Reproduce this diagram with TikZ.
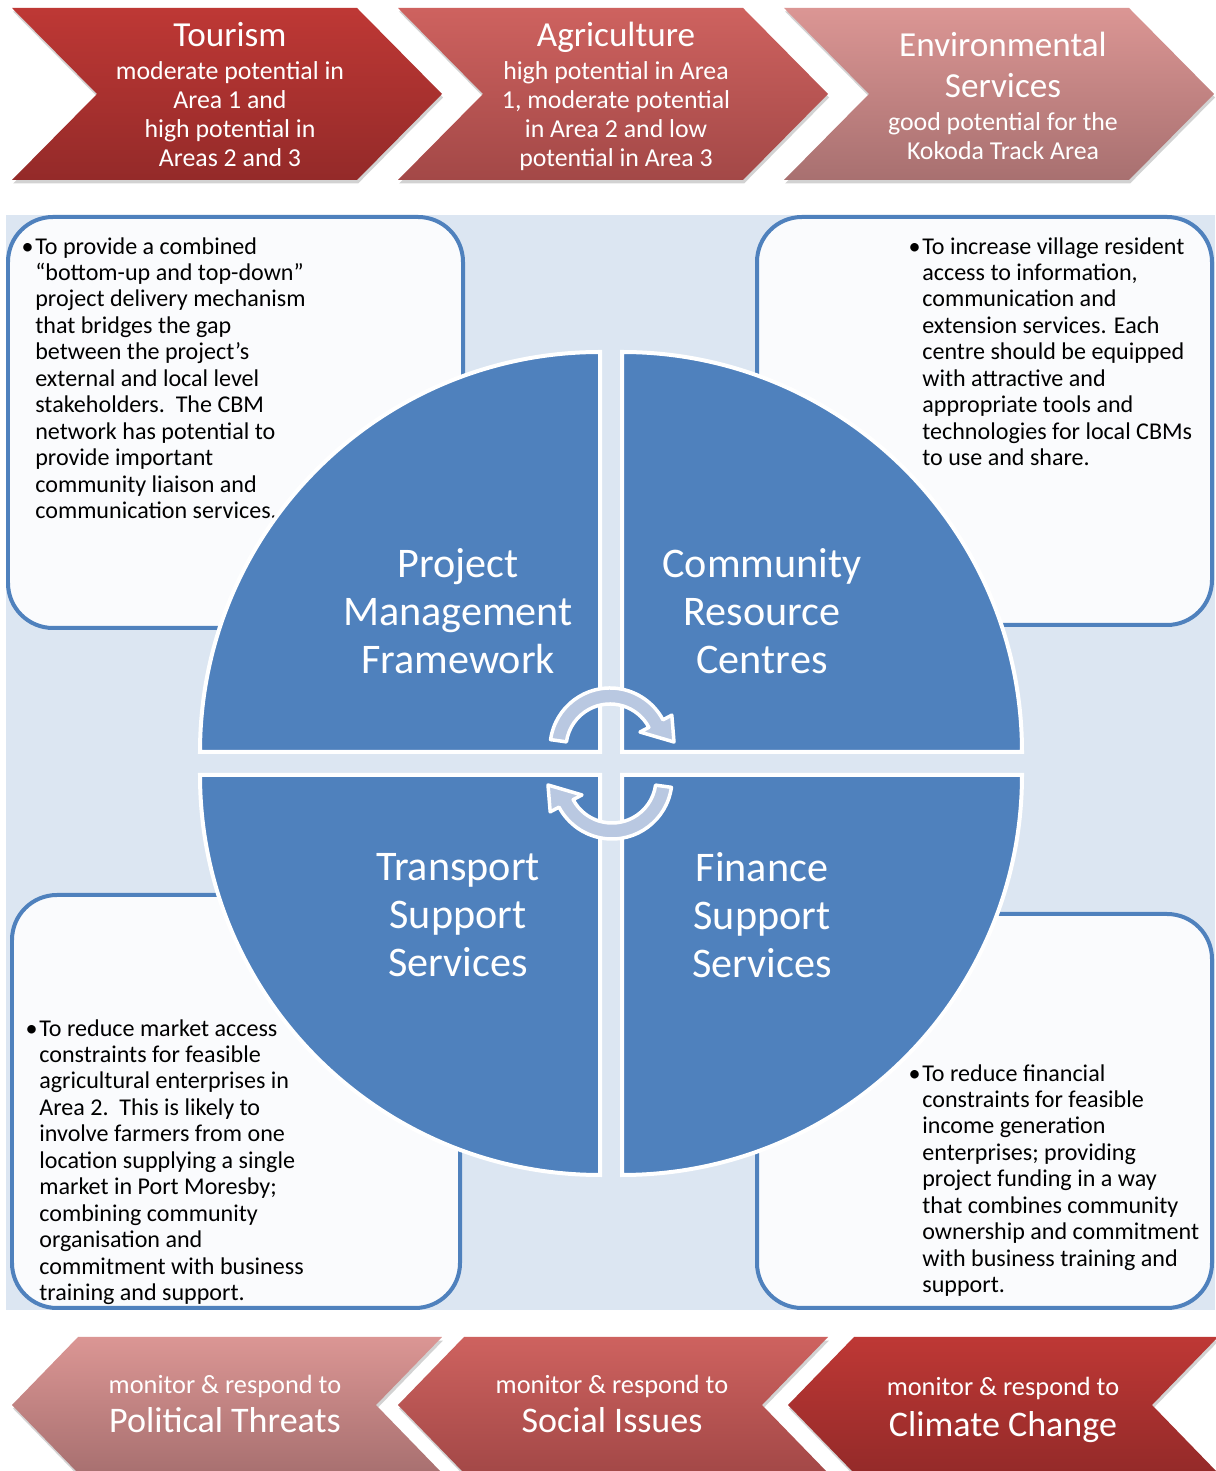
\documentclass[tikz,border=0pt]{standalone}
\usepackage{fontspec}
\setmainfont{Carlito}
\usepackage{tikz}
\usetikzlibrary{calc, shadows}
\definecolor{cBg}{RGB}{220,230,242}
\definecolor{cBlue}{RGB}{79,129,189}
\definecolor{cBoxFill}{RGB}{250,251,253}
\definecolor{cArrow}{RGB}{185,200,225}
\definecolor{cRedA}{RGB}{190,56,53}
\definecolor{cRedB}{RGB}{148,42,41}
\definecolor{cRoseA}{RGB}{206,98,95}
\definecolor{cRoseB}{RGB}{163,72,71}
\definecolor{cPinkA}{RGB}{219,150,148}
\definecolor{cPinkB}{RGB}{168,112,112}
\tikzset{
	chevron/.style  ={drop shadow={shadow xshift=0.6pt, shadow yshift=-2pt, opacity=0.35}},
	darkchev/.style ={chevron, top color=cRedA, bottom color=cRedB},
	midchev/.style  ={chevron, top color=cRoseA, bottom color=cRoseB},
	lightchev/.style={chevron, top color=cPinkA, bottom color=cPinkB},
	chevtitle/.style={text=white, align=center, inner sep=0pt, font=\fontsize{20}{23.8}\selectfont},
	chevsub/.style  ={text=white, align=center, inner sep=0pt, font=\fontsize{14.7}{16.4}\selectfont},
	% centre circle styles
	infobox/.style  ={fill=cBoxFill, draw=cBlue, line width=0.08cm, rounded corners=0.9cm},
	infotext/.style ={anchor=north west, align=left, inner sep=0pt, font=\fontsize{13.7}{15.05}\selectfont},
	quadrant/.style ={fill=cBlue, draw=white, line width=0.08cm},
	quadlabel/.style={text=white, align=center, inner sep=0pt, font=\fontsize{24}{27.2}\selectfont},
	cycarrow/.pic   ={\filldraw[fill=cArrow, draw=white, line width=0.07cm, line join=round]
		(172:60) arc[start angle=172, end angle=28, radius=60] -- (28:70) -- (64,6) -- (28:34)
		-- (28:44) arc[start angle=28, end angle=172, radius=44] -- cycle;},
}

\begin{document}
\begin{tikzpicture}[x=0.02cm, y=0.02cm]
	\fill[white] (0,0) rectangle (1215,1471);
	\useasboundingbox (0,0) rectangle (1215,1471);

	\fill[cBg] (6,161) rectangle (1215,1256);
	\draw[infobox] (8,1254) rectangle (463,843);
	\draw[infobox] (757,1254) rectangle (1212,846);
	\draw[infobox] (12,576) rectangle (460,163);
	\draw[infobox] (757,557) rectangle (1212,163);

	\node[infotext] (pmfText) at (35,1234) {\llap{\textbullet\hspace{1pt}}To provide a combined\\
		“bottom-up and top-down”\\ project delivery mechanism\\ that bridges the gap\\
		between the project’s\\ external and local level\\ stakeholders.\ \ The CBM\\
		network has potential to\\ provide important\\ community liaison and\\ communication services.};
	\node[infotext] (crcText) at (922,1234) {\llap{\textbullet\hspace{1pt}}To increase village resident\\
		access to information,\\ communication and\\ extension services. Each\\
		centre should be equipped\\ with attractive and\\ appropriate tools and\\
		technologies for local CBMs\\ to use and share.};
	\node[infotext] (tssText) at (39,452) {\llap{\textbullet\hspace{1pt}}To reduce market access\\
		constraints for feasible\\ agricultural enterprises in\\ Area 2.\ \ This is likely to\\
		involve farmers from one\\ location supplying a single\\ market in Port Moresby;\\
		combining community\\ organisation and\\ commitment with business\\ training and support.};
	\node[infotext] (fssText) at (922,407) {\llap{\textbullet\hspace{1pt}}To reduce financial\\
		constraints for feasible\\ income generation\\ enterprises; providing\\
		project funding in a way\\ that combines community\\ ownership and commitment\\
		with business training and\\ support.};

	\draw[quadrant] (600,719) -- (200,719) arc[start angle=180, end angle=90, radius=400] -- cycle;
	\draw[quadrant] (622,719) -- (622,1119) arc[start angle=90, end angle=0, radius=400] -- cycle;
	\draw[quadrant] (600,696) -- (600,296) arc[start angle=270, end angle=180, radius=400] -- cycle;
	\draw[quadrant] (622,696) -- (1022,696) arc[start angle=0, end angle=-90, radius=400] -- cycle;

	\node[quadlabel] (pmf) at (458,860) {Project\\ Management\\ Framework};
	\node[quadlabel] (crc) at (762,860) {Community\\ Resource\\ Centres};
	\node[quadlabel] (tss) at (458,556) {Transport\\ Support\\ Services};
	\node[quadlabel] (fss) at (762,556) {Finance\\ Support\\ Services};

	\pic (upCycle) at (610,723) {cycarrow};
	\pic[rotate=180] (downCycle) at (612,692) {cycarrow};

	\path[darkchev]  (12,1463) -- (357,1463) -- (442,1377) -- (357,1291) -- (12,1291) -- (97,1377) -- cycle;
	\path[midchev]   (398,1463) -- (743,1463) -- (828,1377) -- (743,1291) -- (398,1291) -- (483,1377) -- cycle;
	\path[lightchev] (784,1463) -- (1129,1463) -- (1214,1377) -- (1129,1291) -- (784,1291) -- (869,1377) -- cycle;

	\node[chevtitle] (tourism) at (230,1436) {Tourism};
	\node[chevsub] (tourismSub) at (230,1357) {moderate potential in\\ Area 1 and\\ high potential in\\ Areas 2 and 3};
	\node[chevtitle] (agri) at (616,1434) {Agriculture};
	\node[chevsub] (agriSub) at (616,1355) {high potential in Area\\ 1, moderate potential\\ in Area 2 and low\\ potential in Area 3};
	\node[chevtitle] (env) at (1003,1406) {Environmental\\ Services};
	\node[chevsub] (envSub) at (1003,1335) {good potential for the\\ Kokoda Track Area};

	\path[lightchev] (12,66) -- (78,134) -- (442,134) -- (376,66) -- (442,-2) -- (78,-2) -- cycle;
	\path[midchev]   (398,66) -- (464,134) -- (828,134) -- (762,66) -- (828,-2) -- (464,-2) -- cycle;
	\path[darkchev]  (788,66) -- (854,134) -- (1218,134) -- (1152,66) -- (1218,-2) -- (854,-2) -- cycle;

	\node[chevsub, font=\fontsize{15}{17}\selectfont] (polMon) at (225,85) {monitor \& respond to};
	\node[chevtitle, font=\fontsize{20.5}{24}\selectfont] (political) at (225,51) {Political Threats};
	\node[chevsub, font=\fontsize{15}{17}\selectfont] (socMon) at (612,85) {monitor \& respond to};
	\node[chevtitle, font=\fontsize{20.5}{24}\selectfont] (social) at (612,51) {Social Issues};
	\node[chevsub, font=\fontsize{15}{17}\selectfont] (cliMon) at (1003,83) {monitor \& respond to};
	\node[chevtitle, font=\fontsize{20.5}{24}\selectfont] (climate) at (1003,44) {Climate Change};
\end{tikzpicture}
\end{document}
